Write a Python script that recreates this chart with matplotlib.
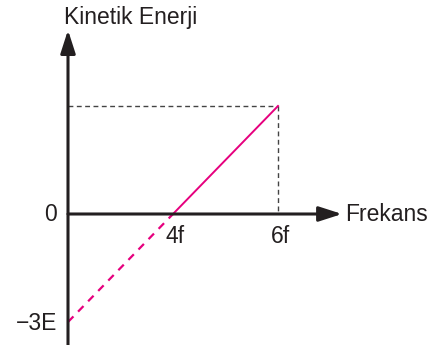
import matplotlib.pyplot as plt

plt.rcParams['font.family'] = ['Liberation Sans', 'DejaVu Sans']

# schematic frequency positions (not to scale in the original drawing)
freq_pos = [0, 1, 2]
energy = [-3, 0, 3]
tick_labels = ["4f", "6f"]
y_labels = ["0", "\u22123E"]

pink = "#E6007E"
ink = "#231F20"

fig = plt.figure(figsize=(4.4, 3.45), dpi=100)
ax = fig.add_axes([0, 0, 1, 1])
ax.set_xlim(-68 / 105, (440 - 68) / 105)
ax.set_ylim(-(345 - 214) / 36, 214 / 36)
ax.axis("off")

# axes with arrows
ax.annotate("", xy=(2.61, 0), xytext=(0, 0),
            arrowprops=dict(arrowstyle="-|>,head_length=1.4,head_width=0.45", color=ink, lw=2.2,
                            shrinkA=0, shrinkB=0))
ax.annotate("", xy=(0, 5.11), xytext=(0, -3.64),
            arrowprops=dict(arrowstyle="-|>,head_length=1.4,head_width=0.45", color=ink, lw=2.2,
                            shrinkA=0, shrinkB=0))

# helper dashed lines to the end point
ax.plot([0, freq_pos[2]], [energy[2], energy[2]], ls=(0, (3.5, 2.5)), color="#444444", lw=1.0, zorder=1)
ax.plot([freq_pos[2], freq_pos[2]], [energy[2], 0], ls=(0, (3.5, 2.5)), color="#444444", lw=1.0, zorder=1)

# kinetic energy line: extrapolated part dashed, real part solid
ax.plot(freq_pos[:2], energy[:2], ls=(0, (3.5, 3)), color=pink, lw=1.6, zorder=2)
ax.plot(freq_pos[1:], energy[1:], ls="-", color=pink, lw=1.4, zorder=2)

fs = 16.5
for x, lab in zip(freq_pos[1:], tick_labels):
    ax.text(x + 0.02, -0.3, lab, ha="center", va="top", fontsize=fs, color=ink)
ax.text(-0.17, 0, y_labels[0], ha="center", va="center", fontsize=fs, color=ink)
ax.text(-0.1, -3.05, y_labels[1], ha="right", va="center", fontsize=fs, color=ink)

ax.text(2.64, 0, "Frekans", ha="left", va="center", fontsize=fs, color=ink)
ax.text(0.6, 5.47, "Kinetik Enerji", ha="center", va="center", fontsize=fs, color=ink)

fig.savefig("out.png", dpi=100)
